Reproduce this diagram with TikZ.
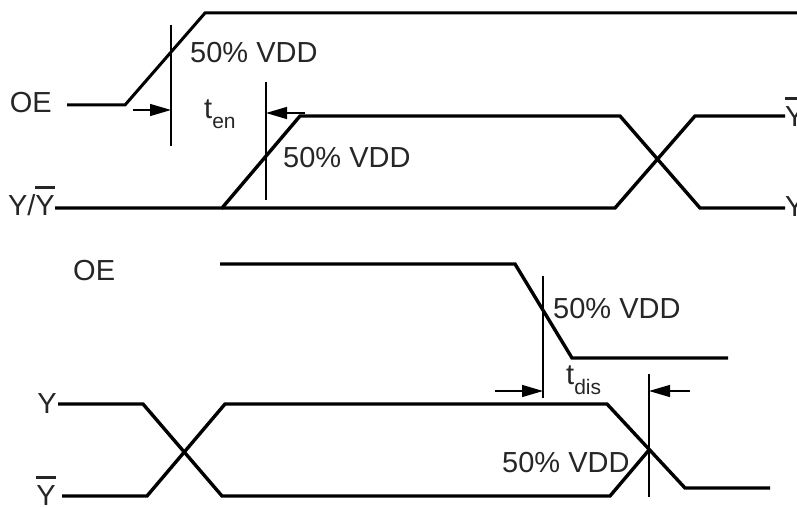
\documentclass[tikz,border=0pt]{standalone}
\usepackage{fontspec}
\setmainfont{Liberation Sans}
\usetikzlibrary{arrows.meta}
\newcommand{\ybar}{\makebox[0pt][l]{\rule[0.9em]{0.66em}{0.1em}}Y}
\newcommand{\tsub}[1]{\raisebox{-10pt}{\fontsize{21}{21}\selectfont #1}}
\tikzset{lbl/.style={inner sep=0pt,text=black!85,font=\fontsize{29}{32}\selectfont}}

\begin{document}
\begin{tikzpicture}[x=1pt,y=-1pt,
    wave/.style={line width=3.4pt,line join=miter},
    marker/.style={line width=1.6pt},
    dim/.style={line width=1.2pt,-{Triangle[length=21pt,width=12pt]}}]
    \useasboundingbox (0,0) rectangle (797,508);
    % enable
    \node[lbl,anchor=base east] (oeT) at (52,113) {OE};
    \node[lbl,anchor=base east] (yT) at (55,215) {Y/\ybar};
    \node[lbl,anchor=base west] (ybT) at (785,126) {\ybar};
    \node[lbl,anchor=base west] (yyT) at (785,216) {Y};
    \draw[wave,line width=3pt] (67,105) -- (125,105) -- (205,13) -- (797,13);
    \draw[wave] (55,208) -- (222,208) -- (300,116) -- (620,116) -- (700,208) -- (785,208);
    \draw[wave] (222,208) -- (615,208) -- (695,116) -- (785,116);
    \draw[marker] (171,25) coordinate (enL) -- (171,146);
    \draw[marker] (266,82) coordinate (enR) -- (266,200);
    \coordinate (enLa) at (133,110);
    \coordinate (enRa) at (305,113);
    \draw[dim] (enLa) -- (enLa -| enL);
    \draw[dim] (enRa) -- (enRa -| enR);
    \node[lbl,anchor=base west] (vddA) at (190,63) {50\% VDD};
    \node[lbl,anchor=base west] (vddB) at (283,167) {50\% VDD};
    \node[lbl,anchor=base west] (ten) at (204,118) {t\tsub{en}};
    % disable
    \node[lbl,anchor=base west] (oeB) at (73,280) {OE};
    \node[lbl,anchor=base east] (yB) at (57,413) {Y};
    \node[lbl,anchor=base east] (ybB) at (56,505) {\ybar};
    \draw[wave] (220,264) -- (515,264) -- (572,358) -- (728,358);
    \draw[wave] (58,404) -- (143,404) -- (222,496) -- (610,496) -- (649,450);
    \draw[wave] (62,496) -- (147,496) -- (225,404) -- (607,404) -- (685,488) -- (770,488);
    \draw[marker] (543,276) coordinate (disL) -- (543,398);
    \draw[marker] (649,374) coordinate (disR) -- (649,497);
    \coordinate (disLa) at (495,391);
    \coordinate (disRa) at (690,391);
    \draw[dim] (disLa) -- (disLa -| disL);
    \draw[dim] (disRa) -- (disRa -| disR);
    \node[lbl,anchor=base west] (vddC) at (553,318) {50\% VDD};
    \node[lbl,anchor=base west] (vddD) at (502,472) {50\% VDD};
    \node[lbl,anchor=base west] (tdis) at (566,384) {t\tsub{dis}};
\end{tikzpicture}
\end{document}
